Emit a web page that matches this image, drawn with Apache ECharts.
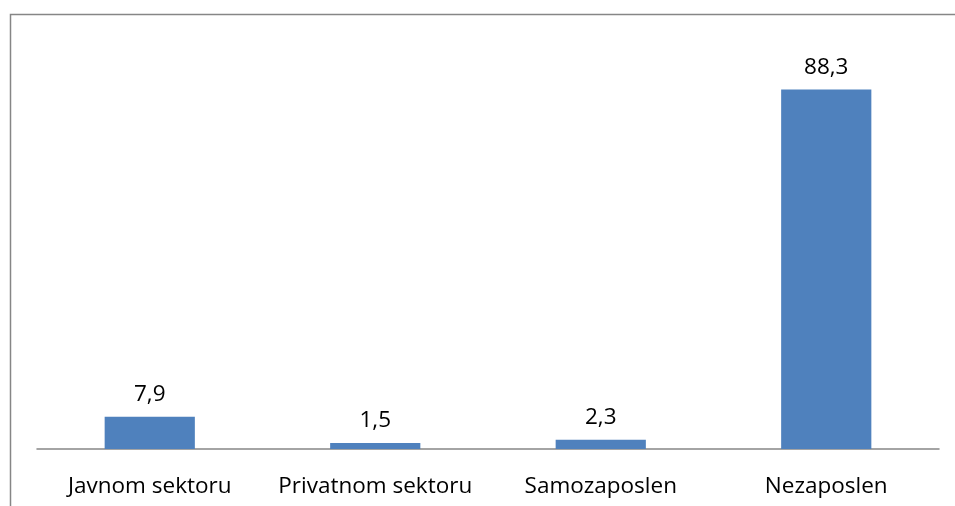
<!DOCTYPE html>
<html><head><meta charset="utf-8">
<script src="https://cdn.jsdelivr.net/npm/echarts@6/dist/echarts.min.js"></script>
<style>html,body{margin:0;padding:0;background:#fff}#c{width:955px;height:506px}</style>
</head><body><div id="c"></div>
<script>
const categories = ["Javnom sektoru", "Privatnom sektoru", "Samozaposlen", "Nezaposlen"];
const values = [7.9, 1.5, 2.3, 88.3];

const chart = echarts.init(document.getElementById('c'), null, {renderer: 'canvas'});
const FONT = 'Open Sans';
chart.setOption({
  animation: false,
  backgroundColor: '#ffffff',
  graphic: [{
    type: 'rect', left: 8, top: 12, silent: true,
    shape: {width: 1000, height: 600},
    style: {fill: 'none', stroke: '#868686', lineWidth: 1.5}
  }],
  grid: {left: 37, right: 16, top: 42, bottom: 57},
  xAxis: {
    type: 'category', data: categories,
    axisLine: {lineStyle: {color: '#868686', width: 1.5}},
    axisTick: {show: false},
    axisLabel: {color: '#000', fontFamily: FONT, fontSize: 22.5, margin: 26, interval: 0}
  },
  yAxis: {
    type: 'value', min: 0, max: 100, show: false, splitLine: {show: false}
  },
  series: [{
    type: 'bar', data: values, barCategoryGap: '60%',
    itemStyle: {color: '#4F81BD'},
    label: {
      show: true, position: 'top', distance: 11, color: '#000',
      fontFamily: FONT, fontSize: 22.5,
      formatter: p => String(p.value).replace('.', ',')
    }
  }]
});
</script></body></html>
